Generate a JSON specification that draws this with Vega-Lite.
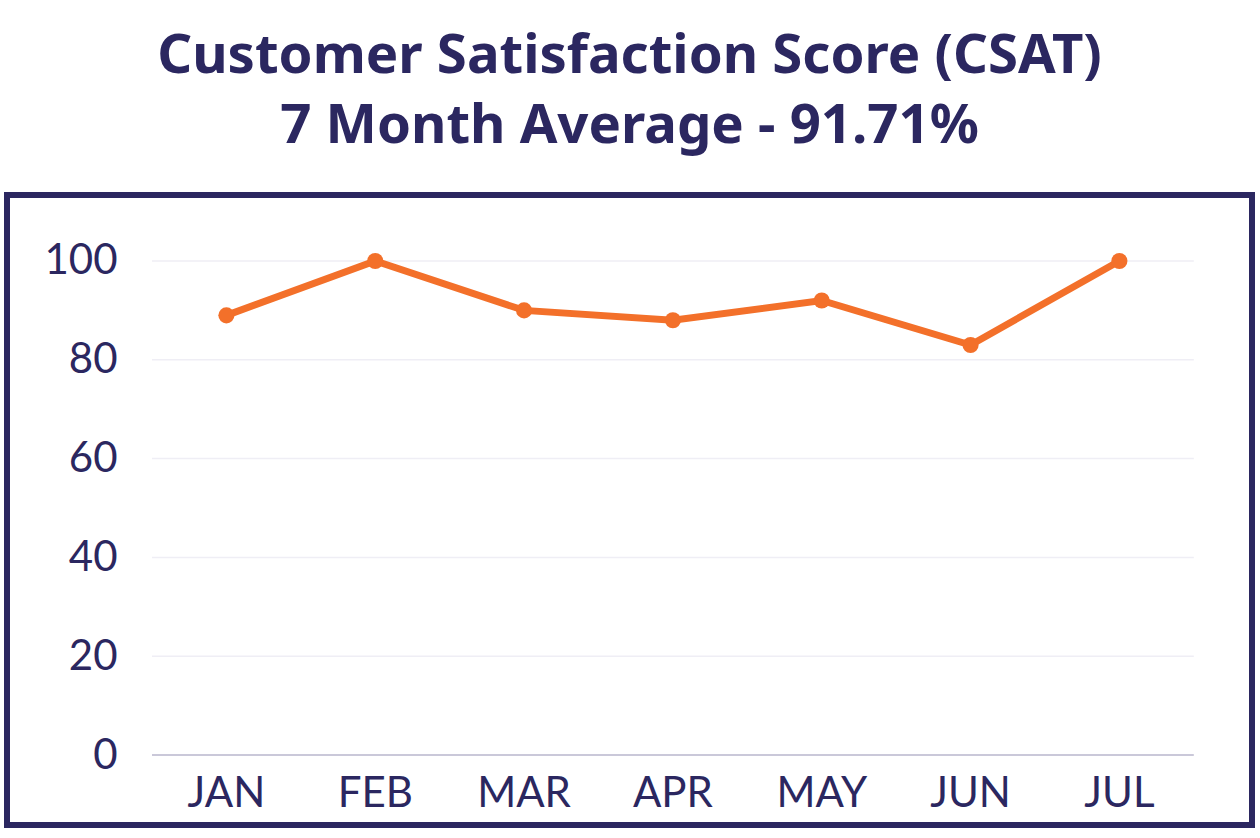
{
  "$schema": "https://vega.github.io/schema/vega-lite/v6.json",
  "width": 1245,
  "height": 630,
  "autosize": {"type": "none"},
  "padding": {"left": 7, "top": 195, "right": 8, "bottom": 13},
  "background": "#ffffff",
  "view": {"stroke": "#2b2760", "strokeWidth": 6, "fill": "#ffffff"},
  "title": {
    "text": ["Customer Satisfaction Score (CSAT)", "7 Month Average - 91.71%"],
    "anchor": "middle",
    "frame": "group",
    "font": "Noto Sans",
    "fontSize": 54.5,
    "fontWeight": "bold",
    "color": "#2b2760",
    "lineHeight": 70,
    "offset": 41
  },
  "datasets": {
    "csat": [
      {"month": "JAN", "score": 89},
      {"month": "FEB", "score": 100},
      {"month": "MAR", "score": 90},
      {"month": "APR", "score": 88},
      {"month": "MAY", "score": 92},
      {"month": "JUN", "score": 83},
      {"month": "JUL", "score": 100}
    ],
    "grid": [
      {"value": 0}, {"value": 20}, {"value": 40}, {"value": 60}, {"value": 80}, {"value": 100}
    ]
  },
  "layer": [
    {
      "data": {"name": "grid"},
      "mark": {"type": "rule", "strokeWidth": 1.5},
      "encoding": {
        "y": {
          "field": "value", "type": "quantitative",
          "scale": {"domain": [-14.17, 113.36], "nice": false, "zero": false},
          "axis": {
            "orient": "left", "title": null, "domain": false, "ticks": false, "grid": false,
            "values": [0, 20, 40, 60, 80, 100], "labelFont": "Lato", "labelFontSize": 42, "labelFontWeight": 400,
            "labelColor": "#2b2760", "labelPadding": 0, "labelBaseline": "middle", "offset": -110
          }
        },
        "x": {
          "datum": "JAN", "type": "nominal", "bandPosition": 0,
          "scale": {"type": "band", "domain": ["JAN","FEB","MAR","APR","MAY","JUN","JUL"], "paddingInner": 0, "paddingOuter": 0.6826, "align": 0.7136},
          "axis": {
            "orient": "bottom", "title": null, "domain": false, "ticks": false, "grid": false,
            "labelAngle": 0, "labelFont": "Lato", "labelFontSize": 42, "labelFontWeight": 400, "labelColor": "#2b2760",
            "labelPadding": 0, "labelBaseline": "middle", "offset": -32
          }
        },
        "x2": {"datum": "JUL", "bandPosition": 1},
        "color": {
          "condition": {"test": "datum.value === 0", "value": "#b8b6cc"},
          "value": "#efeef5"
        }
      }
    },
    {
      "data": {"name": "csat"},
      "mark": {"type": "line", "color": "#f3702a", "strokeWidth": 7},
      "encoding": {
        "x": {"field": "month", "type": "nominal", "sort": null, "bandPosition": 0.5, "title": null},
        "y": {"field": "score", "type": "quantitative", "title": null}
      }
    },
    {
      "data": {"name": "csat"},
      "mark": {"type": "circle", "color": "#f3702a", "size": 260, "opacity": 1},
      "encoding": {
        "x": {"field": "month", "type": "nominal", "sort": null, "bandPosition": 0.5, "title": null},
        "y": {"field": "score", "type": "quantitative", "title": null}
      }
    }
  ]
}
